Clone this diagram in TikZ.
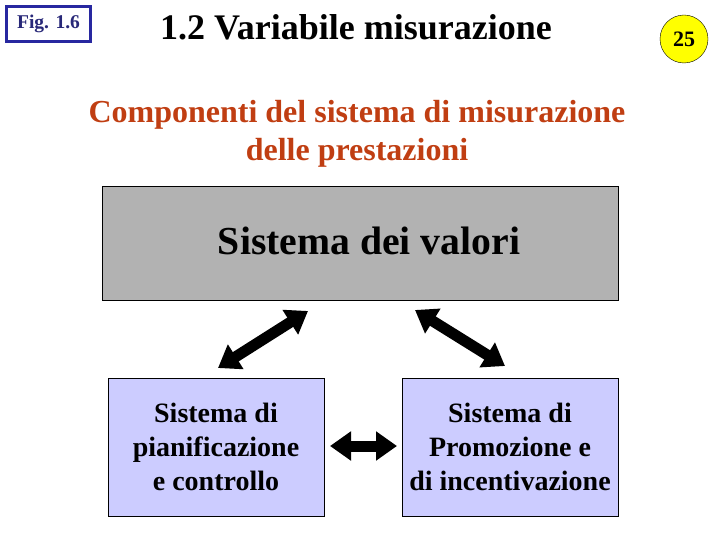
\documentclass[tikz,border=0pt]{standalone}
\usepackage{fontspec}
\setmainfont{Liberation Serif}
\usepackage{tikz}
\definecolor{Grigio}{RGB}{178, 178, 178}
\definecolor{Lavanda}{RGB}{204, 204, 255}
\definecolor{Mattone}{RGB}{192, 62, 18}
\definecolor{BluFig}{RGB}{40, 40, 160}
\definecolor{BluTesto}{RGB}{40, 40, 120}
\definecolor{Giallo}{RGB}{255, 255, 0}
\usetikzlibrary{positioning, arrows.meta}
\tikzset{
    riquadro/.style = {draw=black, thick, align=center, inner sep=0pt},
    sistema/.style = {riquadro, fill=Lavanda, minimum width=216pt, minimum height=138pt,
                      font=\fontsize{28}{34}\selectfont\bfseries},
    frecciona/.style = {line width=11pt, arrows = {Triangle[length=21pt, width=28pt]-Triangle[length=21pt, width=28pt]}}
}

\begin{document}
\begin{tikzpicture}[x=1pt, y=-1pt]
    \useasboundingbox (0,0) rectangle (720,540);

    %%% Header
    \node[draw=BluFig, line width=3pt, minimum width=84pt, minimum height=35pt,
          text=BluTesto, font=\fontsize{19.5}{20}\selectfont\bfseries] (figura) at (48.5,24) {Fig. 1.6};
    \node[font=\fontsize{36}{38}\selectfont\bfseries] (titolo) at (356,27) {1.2 Variabile misurazione};
    \node[circle, draw=black, fill=Giallo, minimum size=48pt, inner sep=0pt,
          font=\fontsize{22}{24}\selectfont\bfseries] (pagina) at (684,39) {25};

    % subtitle
    \node[align=center, text=Mattone, font=\fontsize{32}{38}\selectfont\bfseries] (sottotitolo) at (357,134)
        {Componenti del sistema di misurazione\\delle prestazioni};

    %%% Boxes
    \node[riquadro, fill=Grigio, minimum width=516pt, minimum height=114pt] (valori) at (360,243) {};
    \node[font=\fontsize{39.7}{44}\selectfont\bfseries] (valoritesto) at (369,241) {Sistema dei valori};
    \node[sistema] (pianif) at (216,447) {Sistema di\\pianificazione\\e controllo};
    \node[sistema] (promoz) at (510,447) {Sistema di\\Promozione e\\di incentivazione};

    % arrow ends
    \coordinate (a1) at (218,368);
    \coordinate (a2) at (308,311);
    \coordinate (b1) at (415,310);
    \coordinate (b2) at (505,366);
    \coordinate (c1) at (330,446);
    \coordinate (c2) at (397,446);

    %%% Arrows
    \draw[frecciona] (a1) -- (a2);
    \draw[frecciona] (b1) -- (b2);
    \draw[frecciona] (c1) -- (c2);
\end{tikzpicture}
\end{document}
